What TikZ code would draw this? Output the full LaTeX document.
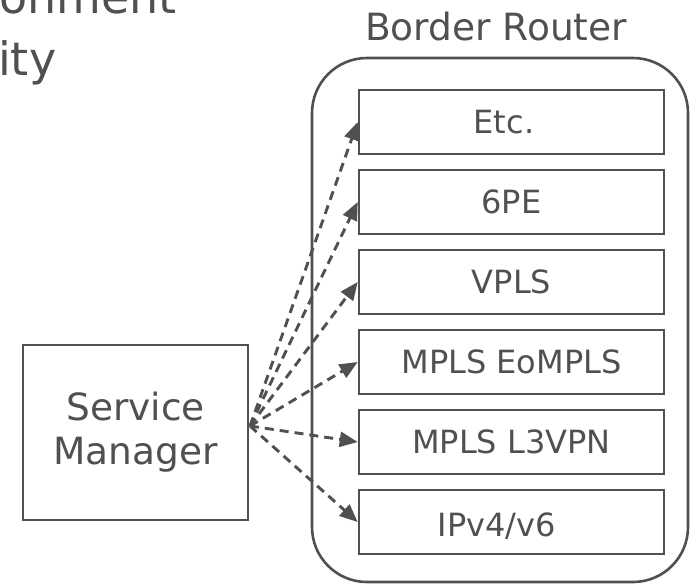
\documentclass[tikz,border=0pt]{standalone}
\usepackage{fontspec}
\setmainfont{DejaVu Sans}
\usetikzlibrary{arrows.meta}
\definecolor{gr}{RGB}{80,80,80}
\begin{document}
\begin{tikzpicture}[x=1pt,y=-1pt,
  box/.style={draw=gr, line width=2.6pt, minimum width=305pt, minimum height=64pt,
    inner sep=0pt, text height=23pt, text depth=0pt, font=\fontsize{32}{37}\selectfont, text=gr},
  link/.style={draw=gr, line width=2.9pt, dash pattern=on 9pt off 6pt,
    -{Triangle[length=18pt,width=15pt,fill=gr]}},
  lbl/.style={font=\fontsize{37.5}{44}\selectfont, text=gr},
  title/.style={font=\fontsize{46}{62}\selectfont, text=gr, inner sep=0pt}
]
\useasboundingbox (0,0) rectangle (690,584);

% title text, cut by the picture's edge as in the reference
\node[title, anchor=base east] (t1) at (177,13) {onment};
\node[title, anchor=base west] (t2) at (-2,75) {ity};

% border router
\node[draw=gr, line width=2.6pt, rounded corners=55pt, minimum width=376pt,
      minimum height=524pt, inner sep=0pt] (br) at (500,320) {};
\node[lbl, anchor=base] (brl) at (496,40) {Border Router};

\node[box] (etc)  at (511.5,122) {\hspace*{-15pt}Etc.};
\node[box] (pe)   at (511.5,202) {6PE};
\node[box] (vpls) at (511.5,282) {VPLS};
\node[box] (eo)   at (511.5,362) {MPLS EoMPLS};
\node[box] (l3)   at (511.5,442) {MPLS L3VPN};
\node[box] (ip)   at (511.5,522) {\hspace*{-29pt}\raisebox{-3pt}{IPv4/v6}};

% service manager
\node[draw=gr, line width=2.6pt, minimum width=225pt, minimum height=175pt,
      align=center, lbl] (sm) at (135.5,432.5) {Service\\Manager};

\coordinate (src) at (250,426);
\foreach \t in {etc,pe,vpls,eo,l3,ip}
  \draw[link] (src) -- (\t.west);
\end{tikzpicture}
\end{document}
